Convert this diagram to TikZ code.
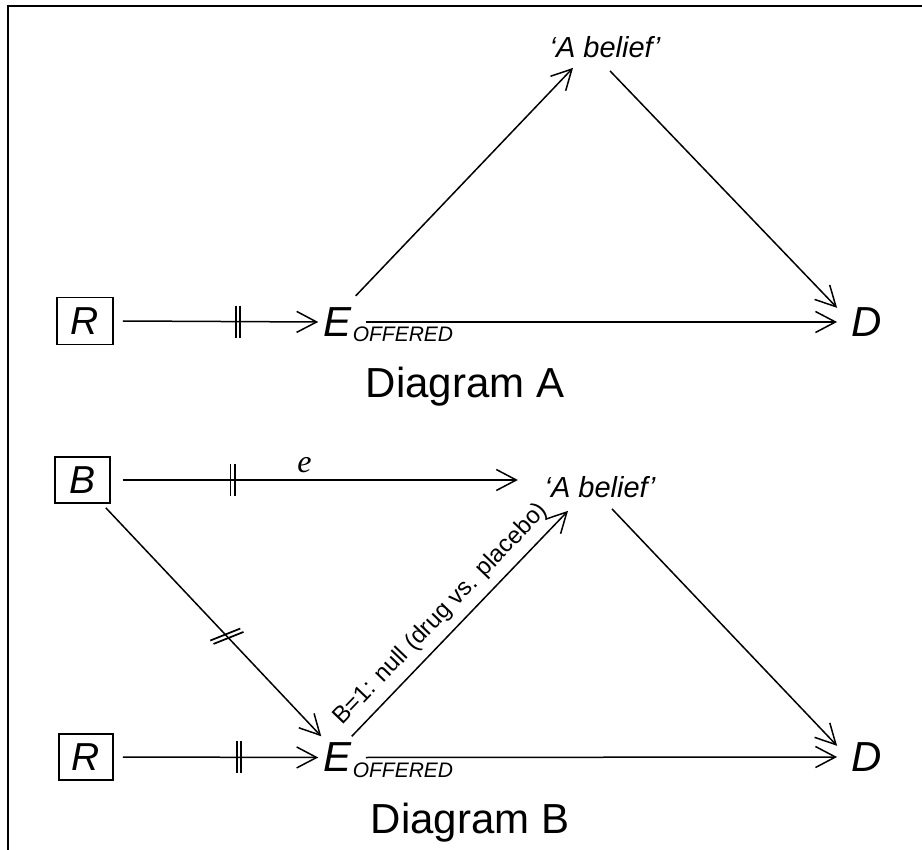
\documentclass[tikz,border=0pt]{standalone}
\usepackage{fontspec}
\setmainfont{Liberation Sans}
\newfontfamily\seriffont{Liberation Serif}
\usetikzlibrary{calc,arrows.meta}

\begin{document}
\begin{tikzpicture}[
 x=1pt, y=-1pt,
 line width=1.5pt,
 >={Straight Barb[length=20pt,width=21pt]},
 box/.style={draw=black,rectangle,line width=1.7pt,minimum width=56pt,minimum height=47pt,inner sep=0pt,font=\fontsize{39}{39}\selectfont\itshape},
 var/.style={inner sep=0pt,font=\fontsize{42}{42}\selectfont\itshape},
 sub/.style={inner sep=0pt,font=\fontsize{21}{21}\selectfont\itshape},
 belief/.style={inner sep=0pt,font=\fontsize{29}{29}\selectfont\itshape},
 title/.style={inner sep=0pt,font=\fontsize{42}{42}\selectfont},
 lab/.style={inner sep=0pt,font=\fontsize{32}{32}\selectfont\seriffont\itshape},
 bars/.style={line width=1.7pt}
]
\useasboundingbox (0,0) rectangle (922,850);
\draw [line width=2pt] (922,6) -- (8,6) -- (8,850);

% Diagram A
\node (rA) [box] at (85,321) {R};
\node (eA) [var] at (338,322) {E};
\node (subA) [sub,anchor=base west] at (352,342) {OFFERED};
\node (dA) [var] at (867,322) {D};
\node (beliefA) [belief] at (605,47) {‘A belief’};
\node (titleA) [title,anchor=base west] at (365,398) {Diagram A};

\draw[->] ([xshift=9pt]rA.east) -- coordinate[pos=0.59] (cutA) ([xshift=-5pt]eA.west);
\draw[bars] ([xshift=-2.2pt]cutA) ++(0,-16) -- ++(0,32);
\draw[bars] ([xshift=2.2pt]cutA) ++(0,-16) -- ++(0,32);
\draw[->] ([xshift=13pt]eA.east) -- ([xshift=-14pt]dA.west);
\draw[->] ([xshift=3pt,yshift=11pt]eA.north east) -- ([xshift=-32pt,yshift=-9.5pt]beliefA.south);
\draw[->] ([xshift=5pt,yshift=-12.5pt]beliefA.south) -- ([xshift=-14pt,yshift=-1pt]dA.north west);

% Diagram B
\node (bB) [box,minimum width=55pt,minimum height=46pt] at (82.5,480) {B};
\node (beliefB) [belief] at (600,487) {‘A belief’};
\node (rB) [box,minimum width=54pt,minimum height=46pt] at (86,757) {R};
\node (eB) [var] at (338,757.5) {E};
\node (subB) [sub,anchor=base west] at (352,777) {OFFERED};
\node (dB) [var] at (867,757) {D};
\node (titleB) [title,anchor=base west] at (370,833) {Diagram B};

\draw[->] ([xshift=12pt]bB.east) -- coordinate[pos=0.278] (cutB)
  node (eLab) [lab,pos=0.46,above=6pt] {e} ($(bB.east -| beliefB.west)+(-26,0)$);
\draw[bars] ([xshift=-2.2pt]cutB) ++(0,-16) -- ++(0,32);
\draw[bars] ([xshift=2.2pt]cutB) ++(0,-16) -- ++(0,32);

\draw[->] ([xshift=-5pt,yshift=-4pt]bB.south east) -- coordinate[pos=0.562] (cutC) ([xshift=-2pt,yshift=6pt]eB.north west);
\draw[bars] ($(cutC)+(-1.6,-1.7)$) ++(-15,6) -- ++(30,-12);
\draw[bars] ($(cutC)+(1.6,1.7)$) ++(-15,6) -- ++(30,-12);

\draw[->] ([xshift=9pt]rB.east) -- coordinate[pos=0.594] (cutD) ([xshift=-5pt]eB.west);
\draw[bars] ([xshift=-2.2pt]cutD) ++(0,-16) -- ++(0,32);
\draw[bars] ([xshift=2.2pt]cutD) ++(0,-16) -- ++(0,32);
\draw[->] ([xshift=13pt]eB.east) -- ([xshift=-14pt]dB.west);

\draw[->] ([xshift=-1pt,yshift=6pt]eB.north east) --
  node (nullLab) [sloped,anchor=south,pos=0.48,inner sep=8pt,font=\fontsize{24}{24}\selectfont] {B=1: null (drug vs. placebo)}
  ([xshift=-32pt,yshift=-12.5pt]beliefB.south);
\draw[->] ([xshift=12pt,yshift=-10.5pt]beliefB.south) -- ([xshift=-14pt,yshift=-4pt]dB.north west);
\end{tikzpicture}
\end{document}
